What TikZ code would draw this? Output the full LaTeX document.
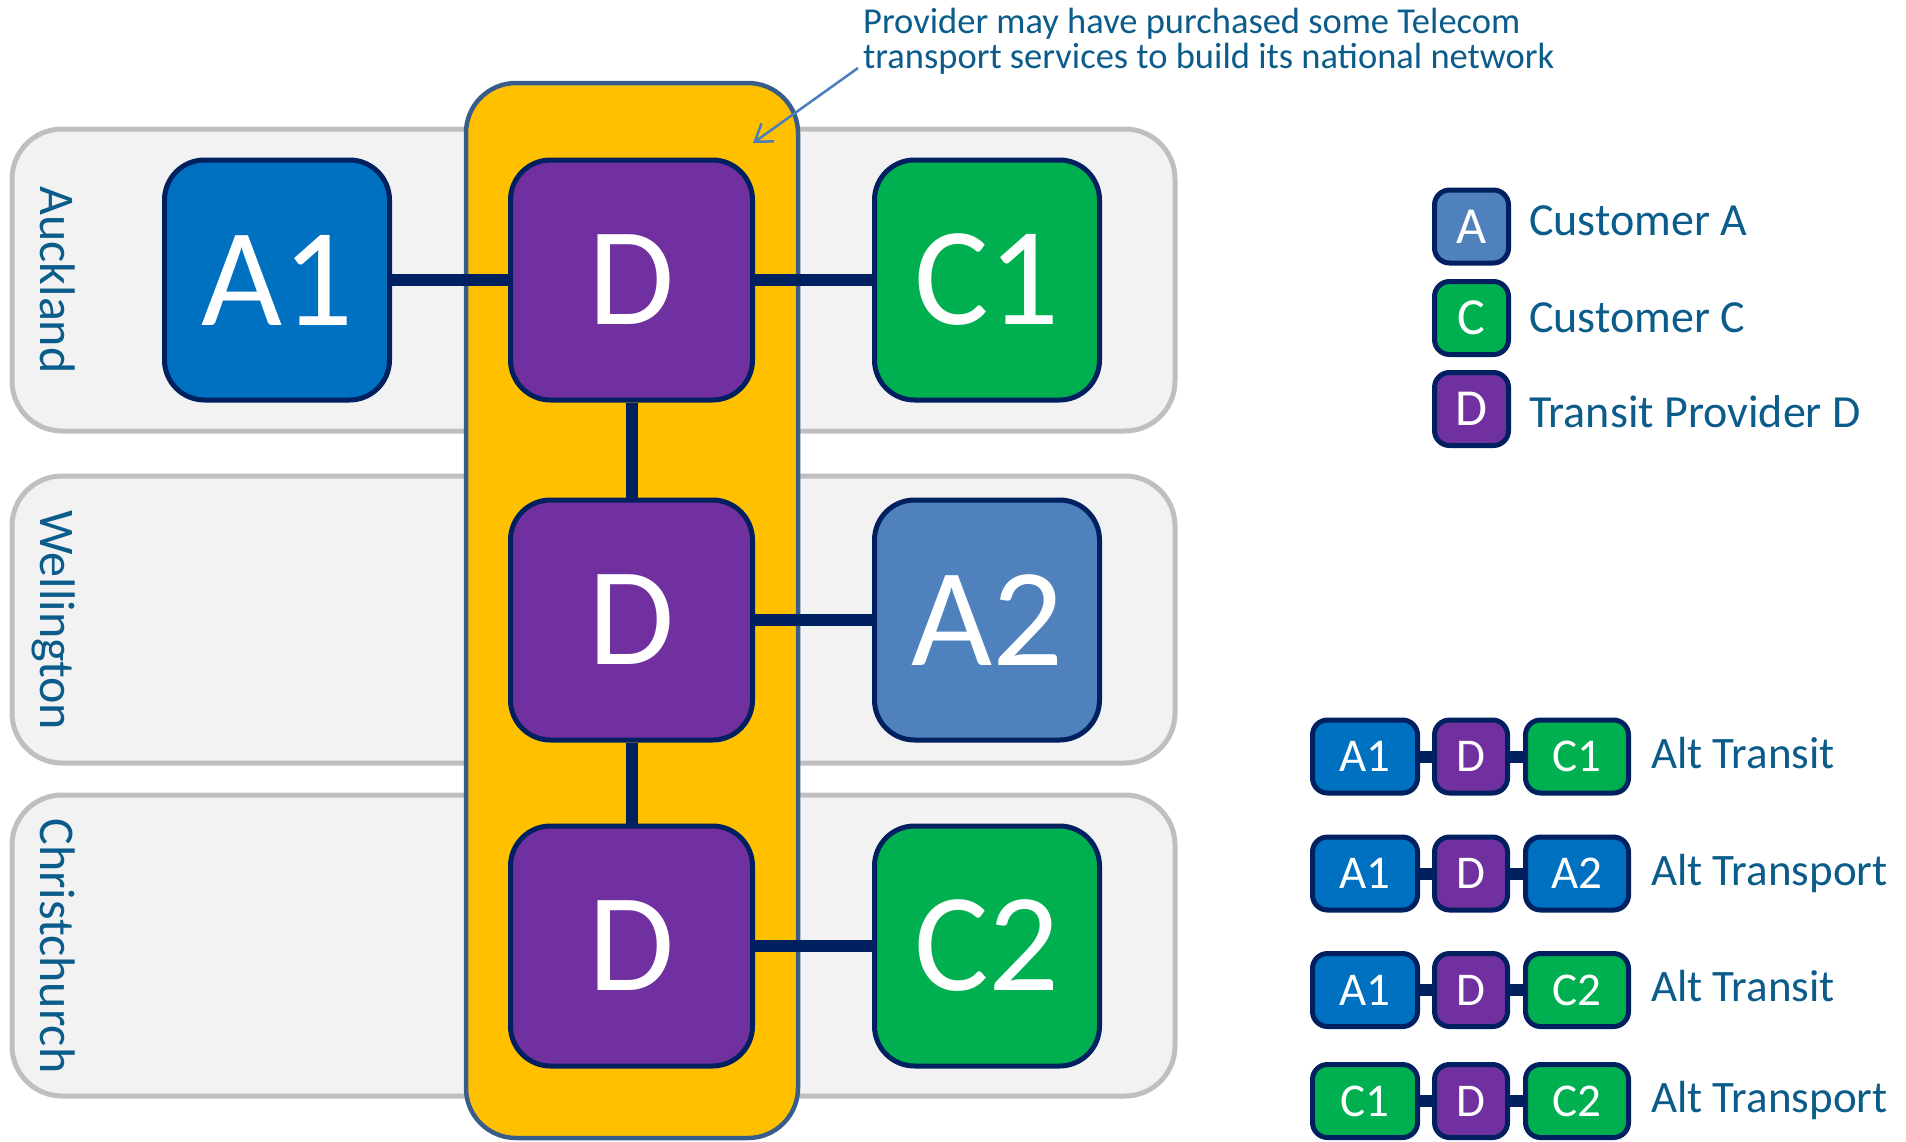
\documentclass[tikz,border=0pt]{standalone}
\usepackage{fontspec}
\setmainfont{Carlito}
\usetikzlibrary{arrows.meta}
\definecolor{navy}{HTML}{002060}
\definecolor{custA}{HTML}{0070C0}
\definecolor{custAl}{HTML}{4F81BD}
\definecolor{provD}{HTML}{7030A0}
\definecolor{custC}{HTML}{00B050}
\definecolor{gold}{HTML}{FFC000}
\definecolor{goldline}{HTML}{385D8A}
\definecolor{bandfill}{HTML}{F2F2F2}
\definecolor{bandline}{HTML}{BFBFBF}
\definecolor{txt}{HTML}{0B5C8A}
\definecolor{arrowc}{HTML}{4A7EBB}
\newcommand{\fsz}[1]{\fontsize{#1}{#1}\selectfont}
\begin{document}
\begin{tikzpicture}[x=1pt,y=-1pt,
  band/.style={draw=bandline, fill=bandfill, line width=5pt, rounded corners=50pt, inner sep=0},
  city/.style={rotate=-90, anchor=base, text=txt, font=\fsz{50}, inner sep=0},
  bigbox/.style={draw=navy, line width=5pt, rounded corners=40pt, minimum height=240pt, text=white, font=\fsz{140}, inner sep=0},
  acbox/.style={bigbox, minimum width=225pt},
  dbox/.style={bigbox, minimum width=242pt, fill=provD},
  link/.style={draw=navy, line width=12pt},
  smallbox/.style={draw=navy, line width=5pt, rounded corners=15pt, minimum height=73pt, text=white, font=\fsz{47}, inner sep=0},
  legbox/.style={smallbox, minimum width=74pt, font=\fsz{52}},
  legtext/.style={anchor=base west, text=txt, font=\fsz{46}, inner sep=0},
  alttext/.style={anchor=base west, text=txt, font=\fsz{45}, inner sep=0},
  note/.style={anchor=base west, align=left, text=txt, font=\fsz{36.5}, inner sep=0}
]
\useasboundingbox (0,0) rectangle (1906,1141);

% city bands
\node[band, minimum width=1163pt, minimum height=302pt] (bAuck) at (593.5,280) {};
\node[band, minimum width=1163pt, minimum height=287pt] (bWell) at (593.5,619.5) {};
\node[band, minimum width=1163pt, minimum height=301pt] (bChch) at (593.5,945.5) {};
\node[city] (lAuck) at (40,280) {Auckland};
\node[city] (lWell) at (40,620) {Wellington};
\node[city] (lChch) at (40,946) {Christchurch};

% provider column
\node[draw=goldline, fill=gold, line width=4.5pt, rounded corners=50pt, minimum width=332pt, minimum height=1055pt, inner sep=0] (prov) at (632,610.5) {};

% main boxes
\node[acbox, fill=custA] (A1) at (277,280) {A1};
\node[dbox] (D1) at (631.5,280) {D};
\node[acbox, fill=custC] (C1) at (987,280) {C1};
\node[dbox] (D2) at (631.5,620) {D};
\node[acbox, fill=custAl] (A2) at (987,620) {A2};
\node[dbox] (D3) at (631.5,946) {D};
\node[acbox, fill=custC] (C2) at (987,946) {C2};

\draw[link] (A1) -- (D1);
\draw[link] (D1) -- (C1);
\draw[link] (D1) -- (D2);
\draw[link] (D2) -- (A2);
\draw[link] (D2) -- (D3);
\draw[link] (D3) -- (C2);

% annotation
\node[note] (ann) at (863,68) {Provider may have purchased some Telecom\\[-1.5pt]transport services to build its national network};
\coordinate (arrS) at (858,68);
\coordinate (arrT) at (753,143);
\draw[draw=arrowc, line width=2.5pt, -{Straight Barb[length=16pt,width=22pt,line width=2.5pt]}] (arrS) -- (arrT);

% legend
\node[legbox, fill=custAl] (legA) at (1471.5,226.5) {A};
\node[legbox, fill=custC] (legC) at (1471.5,318) {C};
\node[legbox, fill=provD] (legD) at (1471.5,409) {D};
\node[legtext] (legAt) at (1529,235) {Customer A};
\node[legtext] (legCt) at (1529,332) {Customer C};
\node[legtext] (legDt) at (1529,427) {Transit Provider D};

% alternative paths
\foreach \r/\y/\la/\ca/\lc/\cc/\lab in {1/756.5/A1/custA/C1/custC/Alt Transit,
                                        2/873.5/A1/custA/A2/custA/Alt Transport,
                                        3/990/A1/custA/C2/custC/Alt Transit,
                                        4/1101/C1/custC/C2/custC/Alt Transport}{
  \node[smallbox, fill=\ca, minimum width=105pt] (rl\r) at (1365,\y) {\la};
  \node[smallbox, fill=provD, minimum width=73pt] (rd\r) at (1471,\y) {D};
  \node[smallbox, fill=\cc, minimum width=103pt] (rr\r) at (1577,\y) {\lc};
  \draw[link] (rl\r) -- (rd\r);
  \draw[link] (rd\r) -- (rr\r);
  \node[alttext] (rt\r) at (1651,\y+11.5) {\lab};
}
\end{tikzpicture}
\end{document}
